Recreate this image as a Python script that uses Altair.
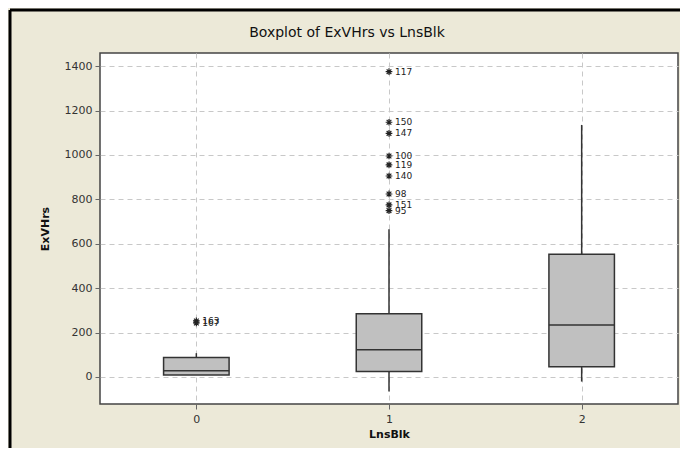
import altair as alt
import pandas as pd

# ---- data ----
groups = [0, 1, 2]
q1 = [9, 24, 46]
median = [28, 122, 234]
q3 = [88, 284, 552]
whisker_lo = [9, -66, -21]
whisker_hi = [107, 665, 1135]

out_group = [0, 0, 1, 1, 1, 1, 1, 1, 1, 1, 1]
out_value = [252, 243, 1375, 1147, 1097, 995, 955, 905, 824, 775, 749]
out_label = ["163", "167", "117", "150", "147", "100", "119", "140", "98", "151", "95"]

y_ticks = [0, 200, 400, 600, 800, 1000, 1200, 1400]
x_ticks = [0, 1, 2]
title_text = ["Boxplot of ExVHrs vs LnsBlk"]

W, H = 578, 351
HALF = 0.17

boxes = pd.DataFrame({"g": groups, "q1": q1, "med": median, "q3": q3,
                      "lo": whisker_lo, "hi": whisker_hi})
outl = pd.DataFrame({"g": out_group, "v": out_value, "lab": out_label})
ttl = pd.DataFrame({"t": title_text})

xs = alt.Scale(domain=[-0.5, 2.5], nice=False, zero=False)
ys = alt.Scale(domain=[-122, 1459], nice=False, zero=False)

font = "DejaVu Sans"

base = alt.Chart(boxes).transform_calculate(
    xl=f"datum.g - {HALF}", xr=f"datum.g + {HALF}"
)

whisk_up = base.mark_rule(color="#333333", strokeWidth=1.5).encode(
    x=alt.X("g:Q", scale=xs,
            axis=alt.Axis(values=x_ticks, title="LnsBlk", format="d")),
    y=alt.Y("q3:Q", scale=ys,
            axis=alt.Axis(values=y_ticks, title="ExVHrs", format="d")),
    y2="hi:Q",
)
whisk_dn = base.mark_rule(color="#333333", strokeWidth=1.5).encode(
    x=alt.X("g:Q", scale=xs), y=alt.Y("lo:Q", scale=ys), y2="q1:Q"
)
box = base.mark_rect(fill="#c0c0c0", stroke="#333333", strokeWidth=1.5).encode(
    x=alt.X("xl:Q", scale=xs), x2="xr:Q",
    y=alt.Y("q1:Q", scale=ys), y2="q3:Q",
)
med = base.mark_rule(color="#333333", strokeWidth=1.5).encode(
    x=alt.X("xl:Q", scale=xs), x2="xr:Q", y=alt.Y("med:Q", scale=ys)
)

star_path = "M-1,0L1,0M0,-1L0,1M-0.7,-0.7L0.7,0.7M-0.7,0.7L0.7,-0.7"
pts = alt.Chart(outl).mark_point(shape=star_path, filled=False, color="#222222",
                                 size=45, strokeWidth=1.2, opacity=1).encode(
    x=alt.X("g:Q", scale=xs), y=alt.Y("v:Q", scale=ys)
)
labs = alt.Chart(outl).mark_text(align="left", baseline="middle", dx=6,
                                 fontSize=9, font=font, color="#222222").encode(
    x=alt.X("g:Q", scale=xs), y=alt.Y("v:Q", scale=ys), text="lab:N"
)

title_mark = alt.Chart(ttl).mark_text(align="center", baseline="middle", fontSize=14,
                                      font=font, color="#111111").encode(
    x=alt.value(W / 2 - 42), y=alt.value(-20), text="t:N"
)

frame_l = alt.Chart(ttl).mark_rule(color="#000000", strokeWidth=3).encode(
    x=alt.value(-90), y=alt.value(-43), y2=alt.value(H + 60)
)
frame_t = alt.Chart(ttl).mark_rule(color="#000000", strokeWidth=3).encode(
    x=alt.value(-90), x2=alt.value(W + 20), y=alt.value(-43)
)

chart = alt.layer(whisk_up, whisk_dn, box, med, pts, labs, title_mark,
                  frame_l, frame_t).properties(
    width=W, height=H,
    autosize=alt.AutoSizeParams(type="none"),
    padding={"left": 92, "top": 45, "right": 2, "bottom": 44},
    background="#ECE9D8",
).configure_view(
    fill="white", stroke="#444444", strokeWidth=1.5
).configure_axis(
    grid=True, gridDash=[5, 4], gridColor="#c8c8c8", gridWidth=1,
    domain=False, tickColor="#666666", tickSize=5,
    labelFont=font, labelFontSize=11, labelColor="#333333",
    titleFont=font, titleFontSize=11, titleFontWeight="bold", titleColor="#111111",
).configure_axisY(
    labelPadding=3, titlePadding=14
).configure_axisX(
    labelPadding=4, titlePadding=4
)

chart.save("out.html", embed_options={"renderer": "svg", "actions": False})
